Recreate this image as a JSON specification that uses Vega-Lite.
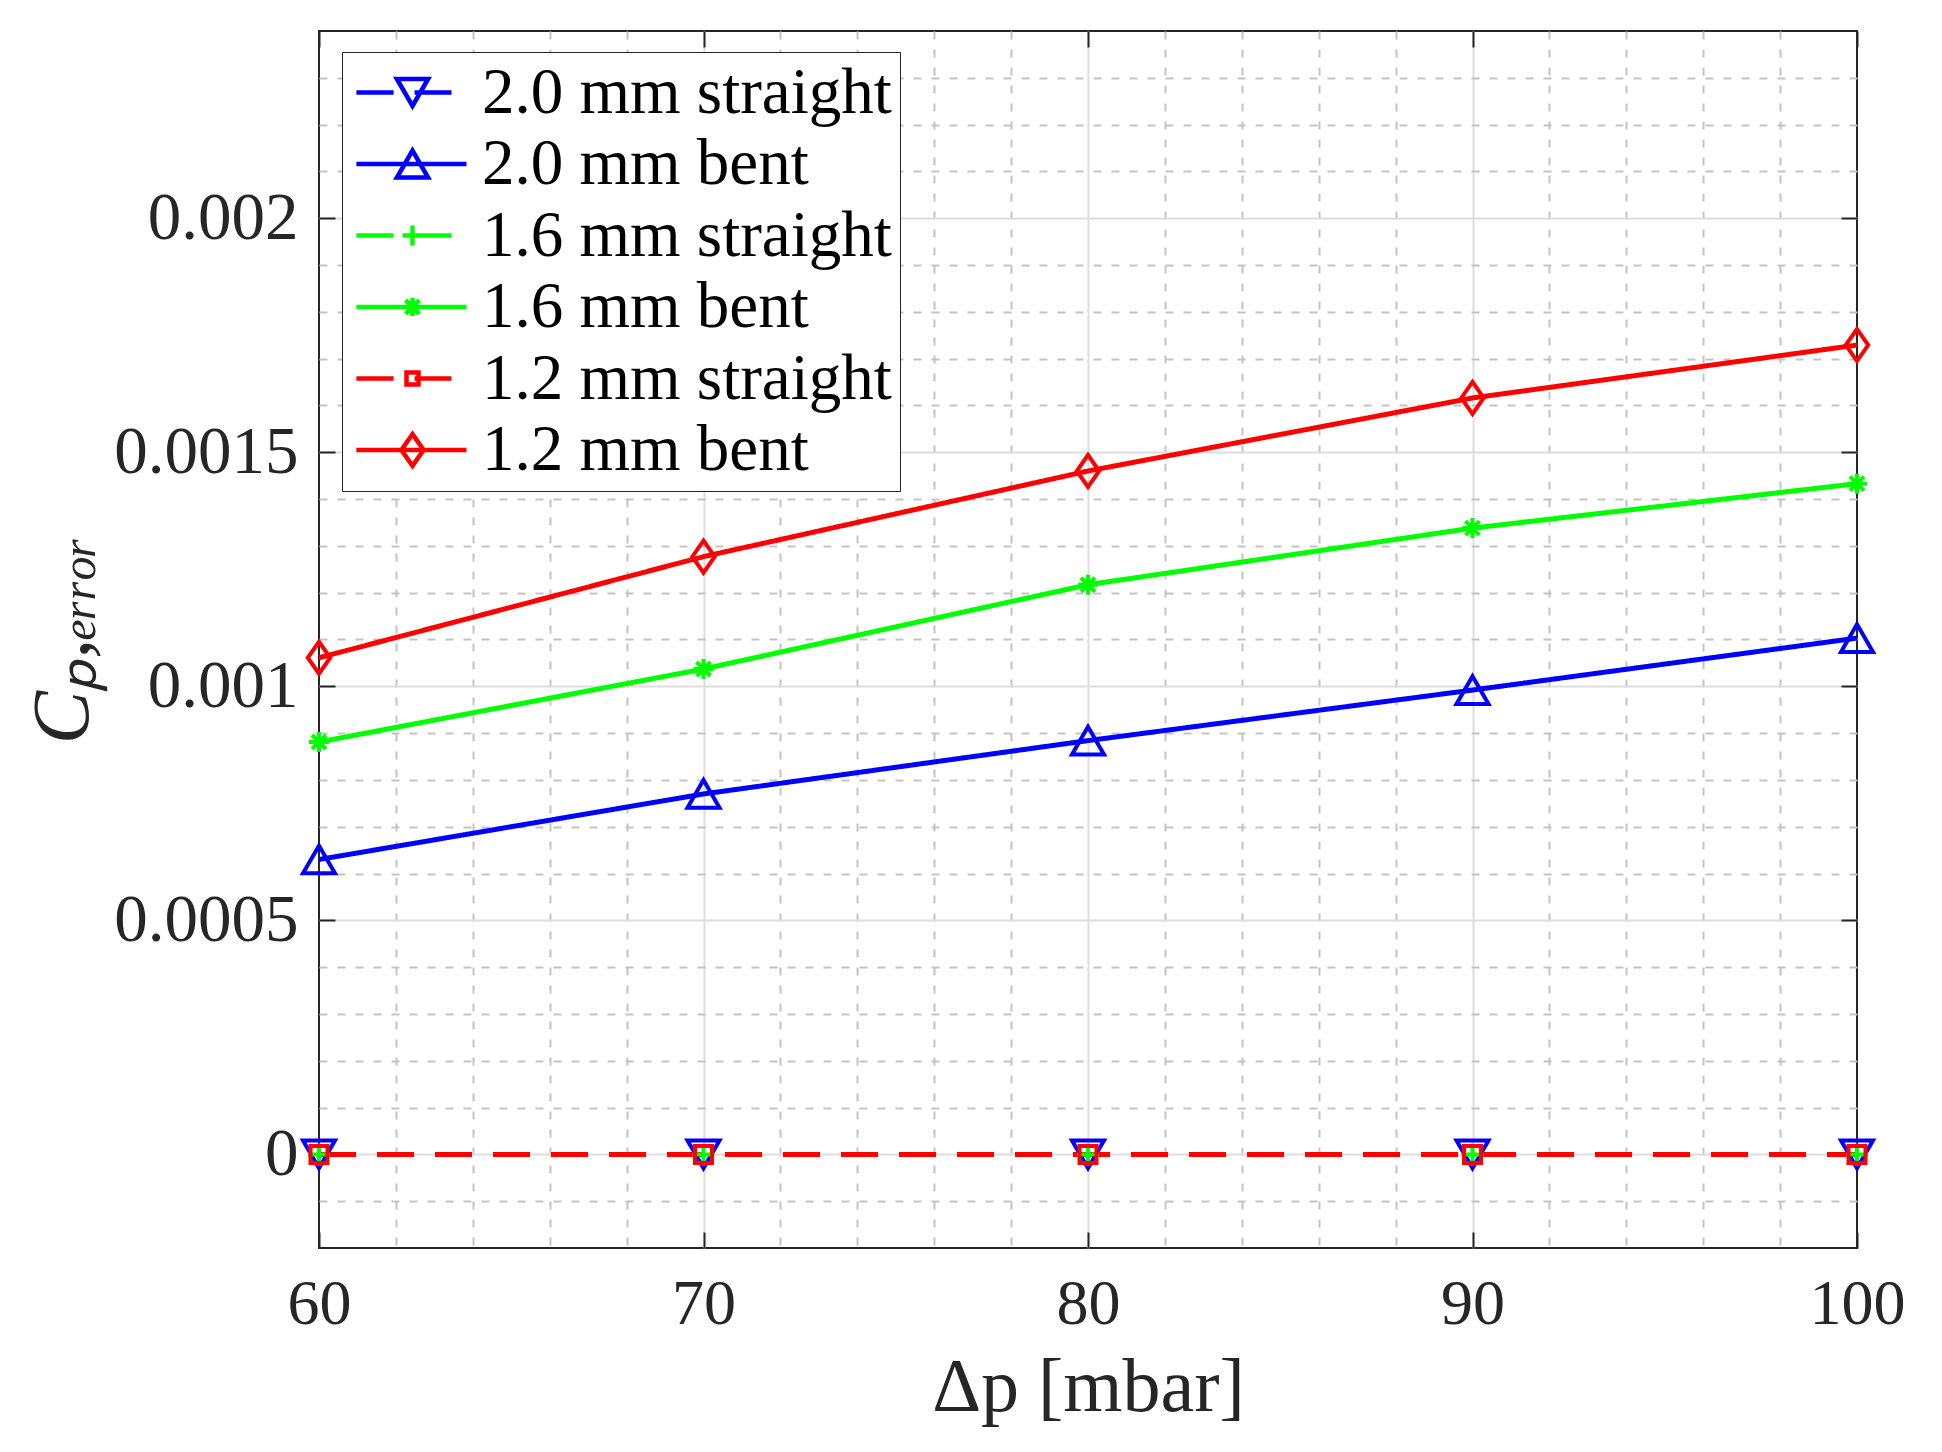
{
  "$schema": "https://vega.github.io/schema/vega-lite/v6.json",
  "width": 1538,
  "height": 1217,
  "autosize": "none",
  "padding": {"left": 319, "top": 31, "right": 85, "bottom": 204},
  "background": "white",
  "config": {
    "view": {"stroke": "#262626", "strokeWidth": 2},
    "font": "Liberation Serif"
  },
  "data": {
    "values": [
      {"dp": 60, "cp": 0, "series": "2.0 mm straight"},
      {"dp": 70, "cp": 0, "series": "2.0 mm straight"},
      {"dp": 80, "cp": 0, "series": "2.0 mm straight"},
      {"dp": 90, "cp": 0, "series": "2.0 mm straight"},
      {"dp": 100, "cp": 0, "series": "2.0 mm straight"},
      {"dp": 60, "cp": 0.00063, "series": "2.0 mm bent"},
      {"dp": 70, "cp": 0.00077, "series": "2.0 mm bent"},
      {"dp": 80, "cp": 0.000884, "series": "2.0 mm bent"},
      {"dp": 90, "cp": 0.000992, "series": "2.0 mm bent"},
      {"dp": 100, "cp": 0.001103, "series": "2.0 mm bent"},
      {"dp": 60, "cp": 0, "series": "1.6 mm straight"},
      {"dp": 70, "cp": 0, "series": "1.6 mm straight"},
      {"dp": 80, "cp": 0, "series": "1.6 mm straight"},
      {"dp": 90, "cp": 0, "series": "1.6 mm straight"},
      {"dp": 100, "cp": 0, "series": "1.6 mm straight"},
      {"dp": 60, "cp": 0.000881, "series": "1.6 mm bent"},
      {"dp": 70, "cp": 0.001037, "series": "1.6 mm bent"},
      {"dp": 80, "cp": 0.001217, "series": "1.6 mm bent"},
      {"dp": 90, "cp": 0.001338, "series": "1.6 mm bent"},
      {"dp": 100, "cp": 0.001433, "series": "1.6 mm bent"},
      {"dp": 60, "cp": 0, "series": "1.2 mm straight"},
      {"dp": 70, "cp": 0, "series": "1.2 mm straight"},
      {"dp": 80, "cp": 0, "series": "1.2 mm straight"},
      {"dp": 90, "cp": 0, "series": "1.2 mm straight"},
      {"dp": 100, "cp": 0, "series": "1.2 mm straight"},
      {"dp": 60, "cp": 0.001061, "series": "1.2 mm bent"},
      {"dp": 70, "cp": 0.001277, "series": "1.2 mm bent"},
      {"dp": 80, "cp": 0.00146, "series": "1.2 mm bent"},
      {"dp": 90, "cp": 0.001616, "series": "1.2 mm bent"},
      {"dp": 100, "cp": 0.001729, "series": "1.2 mm bent"}
    ]
  },
  "layer": [
    {
      "encoding": {
        "x": {
          "field": "dp",
          "type": "quantitative",
          "title": "Δp [mbar]",
          "scale": {"domain": [60, 100], "nice": false, "zero": false},
          "axis": {
            "orient": "bottom",
            "values": [60, 62, 64, 66, 68, 70, 72, 74, 76, 78, 80, 82, 84, 86, 88, 90, 92, 94, 96, 98, 100],
            "labelExpr": "datum.value % 10 === 0 ? datum.label : ''",
            "grid": true,
            "gridColor": {"condition": {"test": "datum.value % 10 === 0", "value": "#dedede"}, "value": "#c4c4c4"},
            "gridDash": {"condition": {"test": "datum.value % 10 === 0", "value": []}, "value": [8, 10]},
            "gridOpacity": {"condition": {"test": "datum.value === 60 || datum.value === 100", "value": 0}, "value": 1},
            "gridWidth": 2,
            "ticks": true,
            "tickOpacity": {"condition": {"test": "datum.value % 10 === 0", "value": 1}, "value": 0},
            "tickSize": -16,
            "tickWidth": 2,
            "tickColor": "#262626",
            "domain": false,
            "labelFont": "Liberation Serif",
            "labelFontSize": 64,
            "labelColor": "#262626",
            "labelPadding": 40,
            "labelFlush": false,
            "labelOverlap": false,
            "labelBound": false,
            "labelLimit": 0,
            "titleFont": "Liberation Serif",
            "titleFontSize": 76,
            "titleFontWeight": "normal",
            "titleColor": "#262626",
            "titlePadding": 14
          }
        },
        "y": {
          "field": "cp",
          "type": "quantitative",
          "title": "Cₚ,ₑᵣᵣₒᵣ",
          "scale": {"domain": [-0.0002, 0.0024], "nice": false, "zero": false},
          "axis": {
            "orient": "left",
            "values": [-0.0002, -0.0001, 0, 0.0001, 0.0002, 0.0003, 0.0004, 0.0005, 0.0006, 0.0007, 0.0008, 0.0009, 0.001, 0.0011, 0.0012, 0.0013, 0.0014, 0.0015, 0.0016, 0.0017, 0.0018, 0.0019, 0.002, 0.0021, 0.0022, 0.0023, 0.0024],
            "labelExpr": "abs(datum.value*2000 - round(datum.value*2000)) < 0.000001 ? format(datum.value, '~g') : ''",
            "grid": true,
            "gridColor": {"condition": {"test": "abs(datum.value*2000 - round(datum.value*2000)) < 0.000001", "value": "#dedede"}, "value": "#c4c4c4"},
            "gridDash": {"condition": {"test": "abs(datum.value*2000 - round(datum.value*2000)) < 0.000001", "value": []}, "value": [8, 10]},
            "gridOpacity": {"condition": {"test": "datum.value < -0.00019 || datum.value > 0.00239", "value": 0}, "value": 1},
            "gridWidth": 2,
            "ticks": true,
            "tickOpacity": {"condition": {"test": "abs(datum.value*2000 - round(datum.value*2000)) < 0.000001", "value": 1}, "value": 0},
            "tickSize": -16,
            "tickWidth": 2,
            "tickColor": "#262626",
            "domain": false,
            "labelFont": "Liberation Serif",
            "labelFontSize": 67,
            "labelColor": "#262626",
            "labelPadding": 37,
            "labelFlush": false,
            "labelOverlap": false,
            "labelBound": false,
            "labelLimit": 0,
            "titleFont": "Liberation Serif",
            "titleFontSize": 80,
            "titleFontStyle": "italic",
            "titleFontWeight": "normal",
            "titleColor": "#262626",
            "titlePadding": 15
          }
        }
      },
      "layer": [
        {
          "mark": {"type": "line", "strokeWidth": 5, "clip": true},
          "encoding": {
            "color": {
              "field": "series", "type": "nominal", "legend": null,
              "scale": {
                "domain": ["2.0 mm straight", "2.0 mm bent", "1.6 mm straight", "1.6 mm bent", "1.2 mm straight", "1.2 mm bent"],
                "range": ["#0000ff", "#0000ff", "#00ff00", "#00ff00", "#ff0000", "#ff0000"]
              }
            },
            "strokeDash": {
              "field": "series", "type": "nominal", "legend": null,
              "scale": {
                "domain": ["2.0 mm straight", "2.0 mm bent", "1.6 mm straight", "1.6 mm bent", "1.2 mm straight", "1.2 mm bent"],
                "range": [[37, 21], [1, 0], [37, 21], [1, 0], [37, 21], [1, 0]]
              }
            }
          }
        },
        {
          "mark": {"type": "point", "filled": false, "strokeWidth": 4, "opacity": 1, "clip": false},
          "encoding": {
            "color": {
              "field": "series", "type": "nominal", "legend": null,
              "scale": {
                "domain": ["2.0 mm straight", "2.0 mm bent", "1.6 mm straight", "1.6 mm bent", "1.2 mm straight", "1.2 mm bent"],
                "range": ["#0000ff", "#0000ff", "#00ff00", "#00ff00", "#ff0000", "#ff0000"]
              }
            },
            "shape": {
              "field": "series", "type": "nominal", "legend": null,
              "scale": {
                "domain": ["2.0 mm straight", "2.0 mm bent", "1.6 mm straight", "1.6 mm bent", "1.2 mm straight", "1.2 mm bent"],
                "range": ["triangle-down", "triangle-up", "M-1,0H1M0,-1V1", "M-1,0H1M0,-1V1M-0.7,-0.7L0.7,0.7M-0.7,0.7L0.7,-0.7", "square", "M0,-1L0.7,0L0,1L-0.7,0Z"]
              }
            },
            "size": {
              "field": "series", "type": "nominal", "legend": null,
              "scale": {
                "type": "ordinal",
                "domain": ["2.0 mm straight", "2.0 mm bent", "1.6 mm straight", "1.6 mm bent", "1.2 mm straight", "1.2 mm bent"],
                "range": [1024, 1024, 484, 400, 289, 1024]
              }
            }
          }
        },
        {
          "mark": {"type": "point", "filled": false, "opacity": 0},
          "encoding": {
            "color": {
              "field": "series", "type": "nominal",
              "scale": {
                "domain": ["2.0 mm straight", "2.0 mm bent", "1.6 mm straight", "1.6 mm bent", "1.2 mm straight", "1.2 mm bent"],
                "range": ["#0000ff", "#0000ff", "#00ff00", "#00ff00", "#ff0000", "#ff0000"]
              },
              "legend": {
                "orient": "none", "legendX": 23, "legendY": 21, "title": null,
                "strokeColor": "#262626", "fillColor": "white", "padding": 8,
                "symbolSize": 3600, "symbolStrokeWidth": 4.5, "symbolOpacity": 1, "symbolOffset": 0,
                "labelFont": "Liberation Serif", "labelFontSize": 65, "labelColor": "black",
                "labelOffset": 67, "rowPadding": 5.5, "labelLimit": 0,
                "encode": {"legend": {"update": {"strokeWidth": {"value": 2}}}}
              }
            },
            "shape": {
              "field": "series", "type": "nominal",
              "scale": {
                "domain": ["2.0 mm straight", "2.0 mm bent", "1.6 mm straight", "1.6 mm bent", "1.2 mm straight", "1.2 mm bent"],
                "range": [
                  "M-0.87,0H0.37M1.07,0H2.3M0.48,-0.45H1.52L1,0.45Z",
                  "M-0.87,0H2.8M0.48,0.45H1.52L1,-0.45Z",
                  "M-0.87,0H0.37M1.07,0H2.3M0.67,0H1.33M1,-0.33V0.33",
                  "M-0.87,0H2.8M1,-0.3V0.3M0.77,-0.23L1.23,0.23M0.77,0.23L1.23,-0.23",
                  "M-0.87,0H0.37M1.07,0H2.3M0.8,-0.2H1.2V0.2H0.8Z",
                  "M-0.87,0H2.8M1,-0.53L1.37,0L1,0.53L0.63,0Z"
                ]
              },
              "legend": {
                "orient": "none", "legendX": 23, "legendY": 21, "title": null,
                "strokeColor": "#262626", "fillColor": "white", "padding": 8,
                "symbolSize": 3600, "symbolStrokeWidth": 4.5, "symbolOpacity": 1, "symbolOffset": 0,
                "labelFont": "Liberation Serif", "labelFontSize": 65, "labelColor": "black",
                "labelOffset": 67, "rowPadding": 5.5, "labelLimit": 0,
                "encode": {"legend": {"update": {"strokeWidth": {"value": 2}}}}
              }
            }
          }
        }
      ],
      "resolve": {
        "scale": {"color": "independent", "shape": "independent", "size": "independent", "strokeDash": "independent"}
      }
    },
    {
      "mark": {"type": "point", "opacity": 0},
      "encoding": {
        "x": {
          "field": "dp",
          "type": "quantitative",
          "title": null,
          "scale": {"domain": [60, 100], "nice": false, "zero": false},
          "axis": {
            "orient": "top",
            "values": [60, 70, 80, 90, 100],
            "labels": false,
            "grid": false,
            "domain": false,
            "ticks": true,
            "tickSize": -16,
            "tickWidth": 2,
            "tickColor": "#262626"
          }
        },
        "y": {
          "field": "cp",
          "type": "quantitative",
          "title": null,
          "scale": {"domain": [-0.0002, 0.0024], "nice": false, "zero": false},
          "axis": {
            "orient": "right",
            "values": [0, 0.0005, 0.001, 0.0015, 0.002],
            "labels": false,
            "grid": false,
            "domain": false,
            "ticks": true,
            "tickSize": -16,
            "tickWidth": 2,
            "tickColor": "#262626"
          }
        }
      }
    }
  ],
  "resolve": {
    "scale": {"x": "independent", "y": "independent"}
  }
}
